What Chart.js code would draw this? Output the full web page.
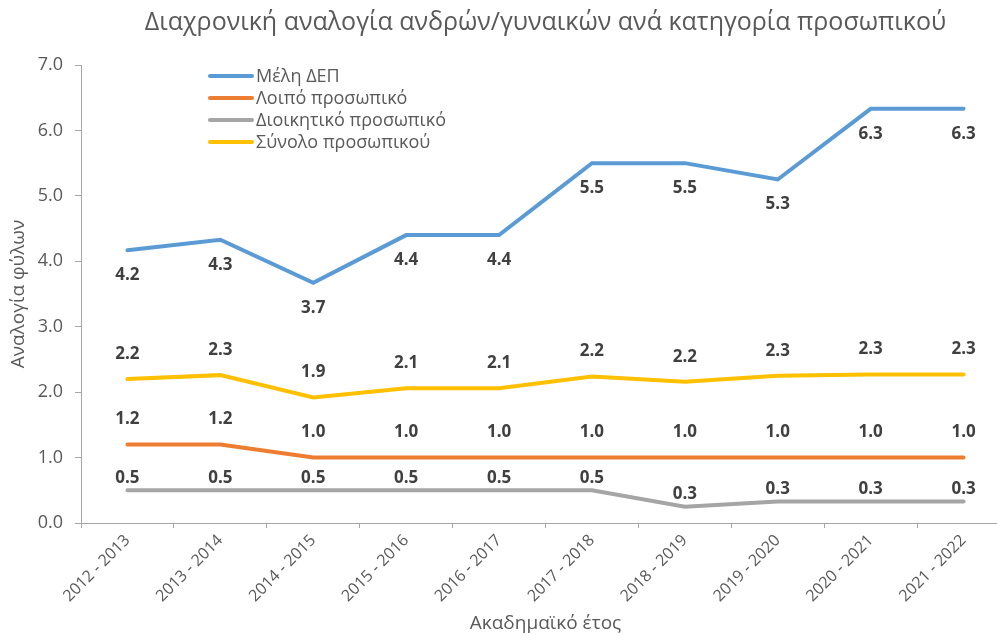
<!DOCTYPE html>
<html>
<head>
<meta charset="utf-8">
<script src="https://cdn.jsdelivr.net/npm/chart.js@4.4.1/dist/chart.umd.min.js"></script>
<style>
html,body{margin:0;padding:0;overflow:hidden;background:#fff;width:997px;height:637px}
#wrap{position:relative;width:1015px;height:637px}
</style>
</head>
<body>
<div id="wrap"><canvas id="c" width="1015" height="637"></canvas></div>
<script>
// ---- data ----
const years = ["2012 - 2013","2013 - 2014","2014 - 2015","2015 - 2016","2016 - 2017","2017 - 2018","2018 - 2019","2019 - 2020","2020 - 2021","2021 - 2022"];
const seriesNames = ["Μέλη ΔΕΠ","Λοιπό προσωπικό","Διοικητικό προσωπικό","Σύνολο προσωπικού"];
const facultyRatio = [4.17, 4.33, 3.67, 4.4, 4.4, 5.5, 5.5, 5.25, 6.33, 6.33];
const otherStaffRatio = [1.2, 1.2, 1.0, 1.0, 1.0, 1.0, 1.0, 1.0, 1.0, 1.0];
const adminStaffRatio = [0.5, 0.5, 0.5, 0.5, 0.5, 0.5, 0.25, 0.33, 0.33, 0.33];
const totalStaffRatio = [2.2, 2.26, 1.92, 2.06, 2.06, 2.24, 2.16, 2.25, 2.27, 2.27];
const yMin = 0, yMax = 7, yStep = 1;
const chartTitle = "Διαχρονική αναλογία ανδρών/γυναικών ανά κατηγορία προσωπικού";
const xTitle = "Ακαδημαϊκό έτος";
const yTitle = "Αναλογία φύλων";

// ---- styles ----
const colors = ["#5B9BD5","#ED7D31","#A5A5A5","#FFC000"];
const labelOffsets = [25, -25, -12, -25];
const FONT = '"Open Sans", "Noto Sans", sans-serif';
const TXT = '#595959';
const AXIS = '#a6a6a6';

const seriesData = [facultyRatio, otherStaffRatio, adminStaffRatio, totalStaffRatio];

const overlay = {
  id: 'overlay',
  afterDatasetsDraw(chart) {
    const ctx = chart.ctx;
    ctx.save();
    // data labels
    ctx.font = 'bold 17px ' + FONT;
    ctx.fillStyle = '#404040';
    ctx.textAlign = 'center';
    ctx.textBaseline = 'middle';
    chart.data.datasets.forEach((ds, i) => {
      const meta = chart.getDatasetMeta(i);
      meta.data.forEach((pt, j) => {
        ctx.fillText(ds.data[j].toFixed(1), pt.x, pt.y + labelOffsets[i]);
      });
    });
    // legend inside plot
    const a = chart.chartArea;
    const x0 = a.left + 129, y0 = a.top + 11;
    ctx.font = '18px ' + FONT;
    ctx.textAlign = 'left';
    ctx.fillStyle = TXT;
    chart.data.datasets.forEach((ds, i) => {
      const y = y0 + i * 22;
      ctx.strokeStyle = ds.borderColor;
      ctx.lineWidth = 4;
      ctx.lineCap = 'round';
      ctx.beginPath();
      ctx.moveTo(x0, y);
      ctx.lineTo(x0 + 42, y);
      ctx.stroke();
      ctx.fillText(ds.label, x0 + 46, y + 1);
    });
    ctx.restore();
  }
};

new Chart(document.getElementById('c'), {
  type: 'line',
  data: {
    labels: years,
    datasets: seriesNames.map((name, i) => ({
      label: name,
      data: seriesData[i],
      borderColor: colors[i],
      backgroundColor: colors[i],
      borderWidth: 4,
      borderCapStyle: 'round',
      pointRadius: 0,
      pointHoverRadius: 0,
      tension: 0,
      fill: false
    }))
  },
  options: {
    responsive: false,
    animation: false,
    devicePixelRatio: 1,
    layout: { padding: { left: 0, right: 5, top: 0, bottom: 0 } },
    plugins: {
      legend: { display: false },
      tooltip: { enabled: false },
      title: {
        display: true,
        text: chartTitle,
        fullSize: false,
        color: TXT,
        font: { family: FONT, size: 25, weight: 'normal', lineHeight: 1.2 },
        padding: { top: 8, bottom: 27 }
      }
    },
    scales: {
      x: {
        type: 'category',
        offset: true,
        grid: { offset: true, drawOnChartArea: false, drawTicks: true, tickLength: 5, color: AXIS },
        border: { display: true, color: AXIS, width: 1 },
        ticks: {
          autoSkip: false, minRotation: 45, maxRotation: 45, padding: 3,
          color: TXT, font: { family: FONT, size: 16 }
        },
        title: { display: true, text: xTitle, color: TXT, font: { family: FONT, size: 19 }, padding: { top: 0, bottom: 2 } },
        afterFit(scale) { scale.height = 114; }
      },
      y: {
        min: yMin, max: yMax,
        grid: { drawOnChartArea: false, drawTicks: true, tickLength: 6, color: AXIS },
        border: { display: true, color: AXIS, width: 1 },
        ticks: {
          stepSize: yStep, padding: 12, color: TXT,
          font: { family: FONT, size: 18 },
          callback: v => Number(v).toFixed(1)
        },
        title: { display: true, text: yTitle, color: TXT, font: { family: FONT, size: 19 }, padding: { top: 7, bottom: 0 } },
        afterFit(scale) { scale.width = 81; }
      }
    }
  },
  plugins: [overlay]
});
</script>
</body>
</html>
